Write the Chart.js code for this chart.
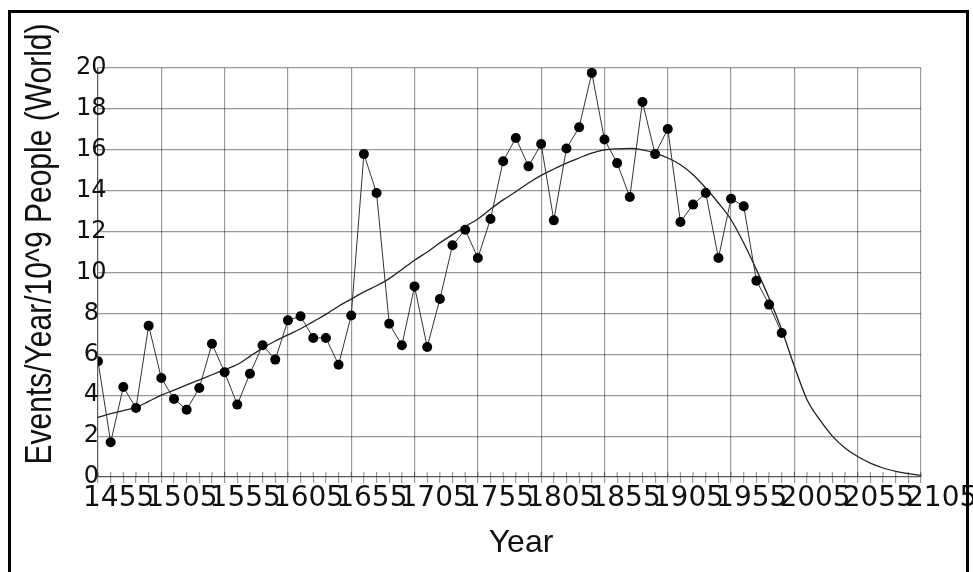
<!DOCTYPE html>
<html>
<head>
    <title>Events/Year/10^9 People (World)</title>
    <script src="https://cdn.jsdelivr.net/npm/chart.js"></script>
    <style>
        body { margin: 0; background: #fff; }
        #wrap { position: relative; width: 973px; height: 572px; overflow: hidden; }
        #frame {
            position: absolute; left: 8px; top: 10px; width: 955px; height: 600px;
            border: 3px solid #000; pointer-events: none;
        }
    </style>
</head>
<body>
<div id="wrap">
    <canvas id="myChart" width="973" height="572"></canvas>
    <div id="frame"></div>
</div>
<script>
    const years = [1455, 1465, 1475, 1485, 1495, 1505, 1515, 1525, 1535, 1545,
                   1555, 1565, 1575, 1585, 1595, 1605, 1615, 1625, 1635, 1645,
                   1655, 1665, 1675, 1685, 1695, 1705, 1715, 1725, 1735, 1745,
                   1755, 1765, 1775, 1785, 1795, 1805, 1815, 1825, 1835, 1845,
                   1855, 1865, 1875, 1885, 1895, 1905, 1915, 1925, 1935, 1945,
                   1955, 1965, 1975, 1985, 1995];
    const events = [5.66, 1.70, 4.40, 3.37, 7.40, 4.84, 3.81, 3.29, 4.35, 6.52,
                    5.12, 3.54, 5.05, 6.44, 5.74, 7.66, 7.86, 6.80, 6.80, 5.49,
                    7.90, 15.79, 13.89, 7.50, 6.44, 9.32, 6.36, 8.70, 11.33, 12.09,
                    10.71, 12.62, 15.44, 16.58, 15.19, 16.28, 12.55, 16.06, 17.10, 19.76,
                    16.50, 15.35, 13.69, 18.34, 15.79, 17.02, 12.47, 13.32, 13.89, 10.71,
                    13.61, 13.24, 9.60, 8.43, 7.04];

    // fitted curve
    const curveYears = [1455, 1465, 1475, 1485, 1495, 1505, 1515, 1525, 1535, 1545,
                        1555, 1565, 1575, 1585, 1595, 1605, 1615, 1625, 1635, 1645,
                        1655, 1665, 1675, 1685, 1695, 1705, 1715, 1725, 1735, 1745,
                        1755, 1765, 1775, 1785, 1795, 1805, 1815, 1825, 1835, 1845,
                        1855, 1865, 1875, 1885, 1895, 1905, 1915, 1925, 1935, 1945,
                        1955, 1965, 1975, 1985, 1995, 2005, 2015, 2025, 2035, 2045,
                        2055, 2065, 2075, 2085, 2095, 2105];
    const curveValues = [2.92, 3.1, 3.25, 3.4, 3.7, 4.0, 4.25, 4.5, 4.75, 5.0,
                         5.25, 5.5, 5.9, 6.3, 6.65, 6.95, 7.25, 7.6, 7.95, 8.35,
                         8.7, 9.05, 9.35, 9.7, 10.15, 10.6, 11.0, 11.45, 11.85, 12.25,
                         12.62, 13.1, 13.55, 13.95, 14.38, 14.75, 15.06, 15.35, 15.6, 15.84,
                         16.0, 16.05, 16.07, 16.0, 15.84, 15.6, 15.27, 14.78, 14.13, 13.4,
                         12.58, 11.44, 10.14, 8.75, 7.2, 5.41, 3.78, 2.8, 2.0, 1.42,
                         1.0, 0.68, 0.44, 0.28, 0.16, 0.08];

    const xTickLabels = ['1455', '1505', '1555', '1605', '1655', '1705', '1755',
                         '1805', '1855', '1905', '1955', '2005', '2055', '2105'];
    const yTitle = 'Events/Year/10^9 People (World)';
    const xTitle = 'Year';

    const gridGray = 'rgba(0,0,0,0.40)';

    // axis titles drawn by hand: the y title is a condensed face in the original
    const titlesPlugin = {
        id: 'titles',
        afterDraw(chart) {
            const ctx = chart.ctx;
            ctx.save();
            ctx.fillStyle = '#111';
            ctx.textAlign = 'center';
            ctx.textBaseline = 'middle';
            ctx.font = '37px "Liberation Sans", Arial, sans-serif';
            const w = ctx.measureText(yTitle).width;
            ctx.translate(41, 244);
            ctx.rotate(-Math.PI / 2);
            ctx.scale(441 / w, 1);
            ctx.fillText(yTitle, 0, 0);
            ctx.restore();

            ctx.save();
            ctx.fillStyle = '#111';
            ctx.textAlign = 'center';
            ctx.textBaseline = 'middle';
            ctx.font = '32px "Liberation Sans", Arial, sans-serif';
            ctx.fillText(xTitle, 521, 543);
            ctx.restore();
        }
    };

    // the small ticks cross the axis line, draw the part above it
    const minorTicksPlugin = {
        id: 'minorTicks',
        afterDatasetsDraw(chart) {
            const xs = chart.scales.x, ctx = chart.ctx;
            const y0 = chart.chartArea.bottom;
            ctx.save();
            ctx.strokeStyle = gridGray;
            ctx.lineWidth = 1.2;
            ctx.beginPath();
            xs.ticks.forEach(t => {
                const px = xs.getPixelForValue(t.value);
                ctx.moveTo(px, y0 - 5);
                ctx.lineTo(px, y0);
            });
            ctx.stroke();
            ctx.restore();
        }
    };

    const isMajor = v => xTickLabels.indexOf(String(v)) !== -1;

    new Chart(document.getElementById('myChart'), {
        type: 'line',
        data: {
            datasets: [{
                label: 'data',
                data: years.map((y, i) => ({x: y, y: events[i]})),
                borderColor: '#333',
                borderWidth: 1,
                pointRadius: 5,
                pointBackgroundColor: '#000',
                pointBorderColor: '#000',
                pointBorderWidth: 0,
                tension: 0
            }, {
                label: 'fit',
                data: curveYears.map((y, i) => ({x: y, y: curveValues[i]})),
                borderColor: '#222',
                borderWidth: 1.3,
                pointRadius: 0,
                cubicInterpolationMode: 'monotone'
            }]
        },
        options: {
            responsive: false,
            animation: false,
            layout: { padding: { left: 0, top: 68, right: 52, bottom: 0 } },
            plugins: { legend: { display: false }, tooltip: { enabled: false } },
            scales: {
                x: {
                    type: 'linear',
                    min: 1455,
                    max: 2105,
                    afterFit(s) { s.height = 95; s.paddingLeft = 0; s.paddingRight = 0; },
                    border: { color: gridGray, width: 1.2 },
                    grid: {
                        color: c => isMajor(c.tick.value) ? gridGray : 'rgba(0,0,0,0)',
                        lineWidth: 1.2,
                        tickColor: gridGray,
                        tickLength: 6
                    },
                    ticks: {
                        stepSize: 10,
                        autoSkip: false,
                        maxRotation: 0,
                        align: 'start',
                        labelOffset: -15,
                        padding: -1,
                        color: '#111',
                        font: { family: '"DejaVu Sans"', size: 28 },
                        callback: v => isMajor(v) ? String(v) : ''
                    }
                },
                y: {
                    min: 0,
                    max: 20,
                    afterFit(s) { s.width = 98; },
                    border: { color: gridGray, width: 1.2 },
                    grid: { color: gridGray, lineWidth: 1.2, drawTicks: false },
                    ticks: {
                        stepSize: 2,
                        mirror: true,
                        crossAlign: 'center',
                        padding: -22,
                        color: '#111',
                        font: { family: '"DejaVu Sans"', size: 24 }
                    }
                }
            }
        },
        plugins: [titlesPlugin, minorTicksPlugin]
    });
</script>
</body>
</html>
